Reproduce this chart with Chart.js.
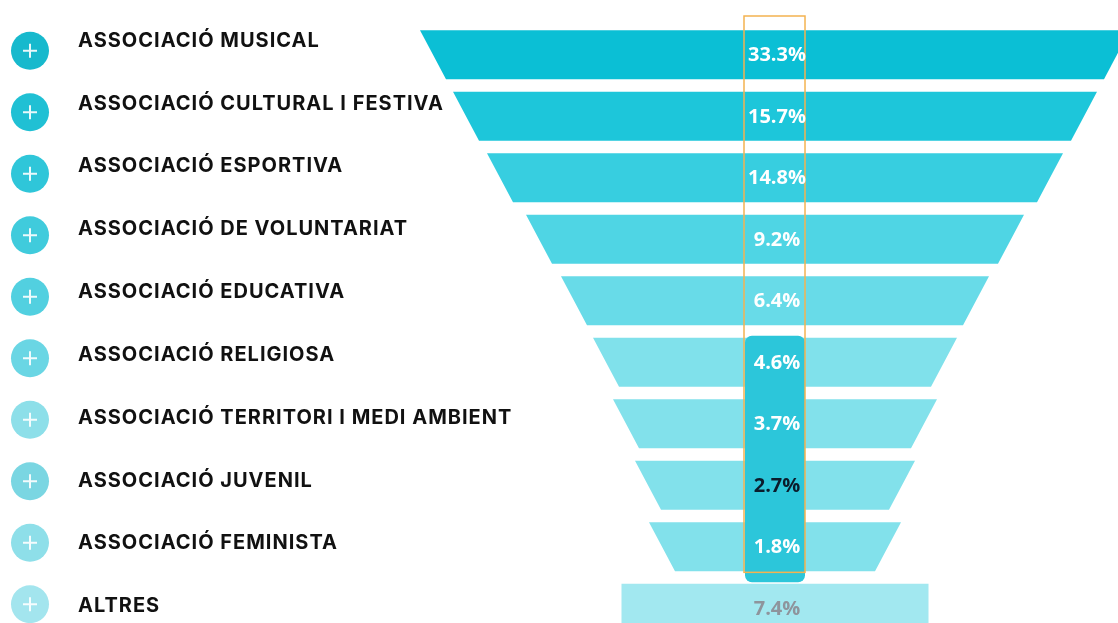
<!DOCTYPE html>
<html>
<head>
<meta charset="utf-8">
<script src="https://cdn.jsdelivr.net/npm/chart.js@4.4.1/dist/chart.umd.min.js"></script>
<style>
  html, body { margin: 0; padding: 0; background: #fff; overflow: hidden; }
  #wrap { width: 1118px; height: 660px; }
</style>
</head>
<body>
<div id="wrap"><canvas id="funnel"></canvas></div>
<script>
// Categories and their share (%)
var categories = [
  'ASSOCIACIÓ MUSICAL',
  'ASSOCIACIÓ CULTURAL I FESTIVA',
  'ASSOCIACIÓ ESPORTIVA',
  'ASSOCIACIÓ DE VOLUNTARIAT',
  'ASSOCIACIÓ EDUCATIVA',
  'ASSOCIACIÓ RELIGIOSA',
  'ASSOCIACIÓ TERRITORI I MEDI AMBIENT',
  'ASSOCIACIÓ JUVENIL',
  'ASSOCIACIÓ FEMINISTA',
  'ALTRES'
];
var shares = [33.3, 15.7, 14.8, 9.2, 6.4, 4.6, 3.7, 2.7, 1.8, 7.4];
// width of each funnel stage (top edge) as it is drawn in the picture
var stageWidths = [710, 644, 576, 498, 428, 364, 324, 280, 252, 307];

// styles
var barColors = ['#0bbfd5', '#1dc6da', '#37cee0', '#4fd5e4', '#68dbe8', '#80e1eb', '#82e1eb', '#82e1eb', '#82e1eb', '#a2e8f0'];
var dotColors = ['#17b9cd', '#20c0d4', '#2fc6d9', '#40cbdc', '#52d0e0', '#6ad6e4', '#8ddfe9', '#7ad6e2', '#8edfe9', '#a3e5ee'];
var valueColors = ['#fff', '#fff', '#fff', '#fff', '#fff', '#fff', '#fff', '#0b1c2c', '#fff', '#8e949c'];
var taper = 26; // how much each stage narrows on every side

// draws the stages as trapezoids instead of plain bars
var funnelPlugin = {
  id: 'funnel',
  beforeDatasetsDraw: function(chart) {
    var c = chart.ctx;
    var meta = chart.getDatasetMeta(0);
    c.save();
    meta.data.forEach(function(el, i) {
      var left = Math.min(el.x, el.base), right = Math.max(el.x, el.base);
      var top = el.y - el.height / 2, bottom = el.y + el.height / 2;
      var t = i === meta.data.length - 1 ? 0 : taper;
      c.fillStyle = barColors[i];
      c.beginPath();
      c.moveTo(left, top);
      c.lineTo(right, top);
      c.lineTo(right - t, bottom);
      c.lineTo(left + t, bottom);
      c.closePath();
      c.fill();
    });
    c.restore();
    return false;
  },
  afterDraw: function(chart) {
    var c = chart.ctx;
    var meta = chart.getDatasetMeta(0);
    var n = meta.data.length;
    var cx = chart.scales.x.getPixelForValue(0);

    c.save();
    // highlight column
    var r6 = meta.data[5], r9 = meta.data[8];
    c.fillStyle = '#2cc6da';
    c.beginPath();
    c.roundRect(cx - 30, r6.y - r6.height / 2 - 2, 60, (r9.y + r9.height / 2 + 11) - (r6.y - r6.height / 2 - 2), 7);
    c.fill();
    c.strokeStyle = '#f4b350';
    c.lineWidth = 1.5;
    c.strokeRect(cx - 31, chart.chartArea.top - 8, 61, (r9.y + r9.height / 2 + 1) - (chart.chartArea.top - 8));

    // values
    c.textAlign = 'center';
    c.textBaseline = 'middle';
    c.font = '700 20px "Open Sans"';
    meta.data.forEach(function(el, i) {
      c.fillStyle = valueColors[i];
      c.fillText(shares[i].toFixed(1) + '%', cx + 2, el.y + 1);
    });

    // category labels with the round "+" markers
    c.textAlign = 'left';
    c.font = '700 20px Inter';
    c.letterSpacing = '1px';
    meta.data.forEach(function(el, i) {
      var dy = el.y - 4;
      c.fillStyle = dotColors[i];
      c.beginPath();
      c.arc(30, dy, 19, 0, Math.PI * 2);
      c.fill();
      c.strokeStyle = 'rgba(255,255,255,0.9)';
      c.lineWidth = 2;
      c.beginPath();
      c.moveTo(23, dy); c.lineTo(37, dy);
      c.moveTo(30, dy - 7); c.lineTo(30, dy + 7);
      c.stroke();

      c.fillStyle = '#111';
      c.fillText(categories[i], 78, el.y - 14 + 12 * i / (n - 1));
    });
    c.restore();
  }
};

var ctx = document.getElementById('funnel').getContext('2d');
new Chart(ctx, {
  type: 'bar',
  data: {
    labels: categories,
    datasets: [{
      data: stageWidths.map(function(w) { return [-w / 2, w / 2]; }),
      backgroundColor: barColors,
      barPercentage: 0.8,
      categoryPercentage: 1
    }]
  },
  options: {
    indexAxis: 'y',
    responsive: true,
    maintainAspectRatio: false,
    animation: false,
    layout: { padding: { top: 24, bottom: 21, left: 0, right: 0 } },
    scales: {
      x: { display: false, min: -775, max: 343 },
      y: { display: false }
    },
    plugins: {
      legend: { display: false },
      tooltip: { enabled: false }
    }
  },
  plugins: [funnelPlugin]
});
</script>
</body>
</html>
